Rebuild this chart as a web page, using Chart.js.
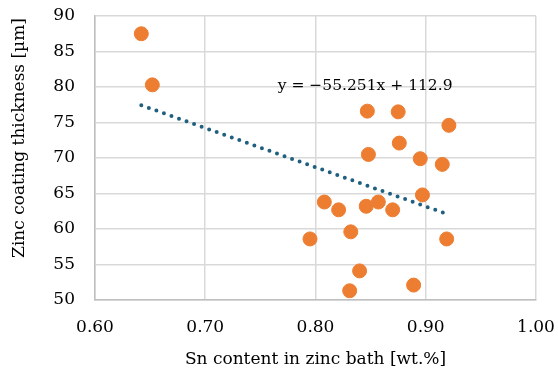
<!DOCTYPE html>
<html>
<head>
<meta charset="utf-8">
<script src="https://cdn.jsdelivr.net/npm/chart.js@4.4.1/dist/chart.umd.min.js"></script>
<style>
  html, body { margin: 0; padding: 0; background: #fff; }
  canvas { display: block; }
</style>
</head>
<body>
<canvas id="snChart" width="558" height="376"></canvas>
<script>
// Sn content in zinc bath [wt.%]
const snContent = [0.642, 0.652, 0.847, 0.875, 0.921, 0.876, 0.848, 0.895, 0.915, 0.897, 0.808,
                   0.821, 0.846, 0.857, 0.870, 0.832, 0.795, 0.919, 0.840, 0.831, 0.889];
// Zinc coating thickness [µm]
const coatingThickness = [87.5, 80.3, 76.6, 76.5, 74.6, 72.1, 70.5, 69.9, 69.1, 64.8, 63.8,
                          62.7, 63.2, 63.8, 62.7, 59.6, 58.6, 58.6, 54.1, 51.3, 52.1];
// linear trendline  y = a*x + b
const trendSlope = -55.251;
const trendIntercept = 112.9;
const xTicks = [0.60, 0.70, 0.80, 0.90, 1.00];
const yTicks = [50, 55, 60, 65, 70, 75, 80, 85, 90];

const FONT = '"DejaVu Serif", serif';
const points = snContent.map((x, i) => ({ x: x, y: coatingThickness[i] }));
const xMin = Math.min(...snContent);
const xMax = Math.max(...snContent);
const trend = [xMin, xMax].map(x => ({ x: x, y: trendSlope * x + trendIntercept }));

// axis titles + trendline equation
const labelsPlugin = {
  id: 'labels',
  afterDraw(chart) {
    const { ctx, chartArea, scales } = chart;
    ctx.save();
    ctx.fillStyle = '#000';
    ctx.font = '17px ' + FONT;
    ctx.textAlign = 'center';
    ctx.textBaseline = 'middle';
    ctx.fillText('Sn content in zinc bath [wt.%]', (chartArea.left + chartArea.right) / 2, 360);
    ctx.save();
    ctx.translate(20, 138);
    ctx.rotate(-Math.PI / 2);
    ctx.fillText('Zinc coating thickness [µm]', 0, 0);
    ctx.restore();
    const eq = 'y = \u2212' + Math.abs(trendSlope) + 'x + ' + trendIntercept;
    ctx.font = '15.5px ' + FONT;
    ctx.fillText(eq, scales.x.getPixelForValue(0.845), scales.y.getPixelForValue(80.2));
    ctx.restore();
  }
};

new Chart(document.getElementById('snChart'), {
  type: 'scatter',
  data: {
    datasets: [
      {
        data: trend,
        showLine: true,
        borderColor: '#1f5f80',
        borderWidth: 4,
        borderDash: [0, 8],
        borderCapStyle: 'round',
        pointRadius: 0
      },
      {
        data: points,
        backgroundColor: '#ed7d31',
        borderColor: '#ed7d31',
        borderWidth: 1,
        pointRadius: 7
      }
    ]
  },
  options: {
    responsive: false,
    animation: false,
    devicePixelRatio: 1,
    layout: { padding: { top: 16, right: 22, left: 0, bottom: 0 } },
    plugins: { legend: { display: false }, tooltip: { enabled: false } },
    scales: {
      x: {
        type: 'linear',
        min: 0.6, max: 1.0,
        afterFit: s => { s.height = 76; s.paddingLeft = 0; s.paddingRight = 0; },
        afterBuildTicks: s => { s.ticks = xTicks.map(v => ({ value: v })); },
        ticks: {
          padding: 17,
          color: '#000',
          font: { family: FONT, size: 17 },
          callback: v => v.toFixed(2)
        },
        grid: { color: '#d9d9d9', lineWidth: 1.5, drawTicks: false },
        border: { color: '#bfbfbf', width: 1.5 }
      },
      y: {
        min: 50, max: 90,
        afterFit: s => { s.width = 95; s.paddingTop = 0; s.paddingBottom = 0; },
        afterBuildTicks: s => { s.ticks = yTicks.map(v => ({ value: v })); },
        ticks: {
          padding: 20,
          color: '#000',
          font: { family: FONT, size: 17 }
        },
        grid: { color: '#d9d9d9', lineWidth: 1.5, drawTicks: false },
        border: { color: '#bfbfbf', width: 1.5 }
      }
    }
  },
  plugins: [labelsPlugin]
});
</script>
</body>
</html>
